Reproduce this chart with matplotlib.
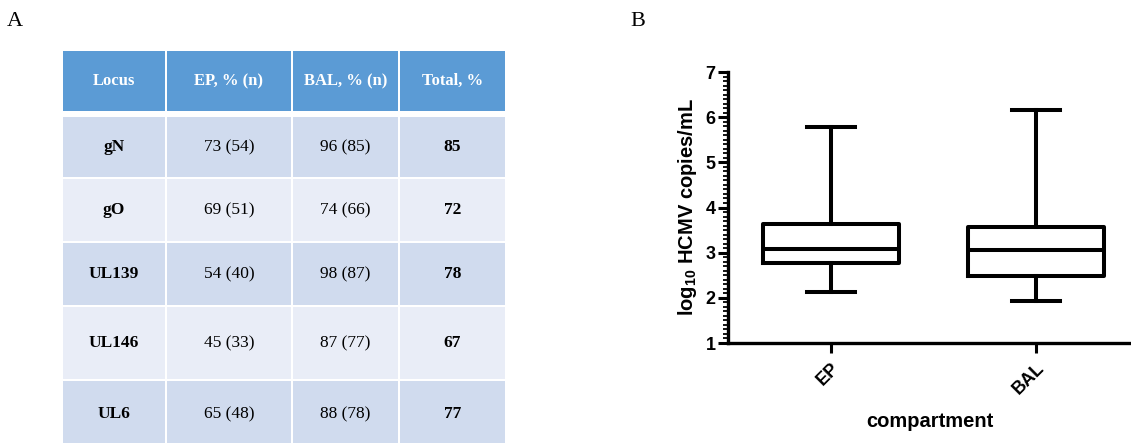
import matplotlib
matplotlib.use("Agg")
import matplotlib.pyplot as plt
from matplotlib.patches import Rectangle
from matplotlib.ticker import MultipleLocator

# ---------------- data ----------------
header = ['Locus', 'EP, % (n)', 'BAL, % (n)', 'Total, %']
loci = ['gN', 'gO', 'UL139', 'UL146', 'UL6']
ep_pct = [73, 69, 54, 45, 65]
ep_n = [54, 51, 40, 33, 48]
bal_pct = [96, 74, 98, 87, 88]
bal_n = [85, 66, 87, 77, 78]
total_pct = [85, 72, 78, 67, 77]

compartments = ['EP', 'BAL']
whis_lo = [2.13, 1.94]
q1 = [2.78, 2.49]
median = [3.09, 3.05]
q3 = [3.64, 3.57]
whis_hi = [5.78, 6.15]

# ---------------- figure ----------------
W, H = 1131, 443
fig = plt.figure(figsize=(W / 100, H / 100), dpi=100)
fig.patch.set_facecolor('white')

serif = 'Liberation Serif'
sans = 'Liberation Sans'
plt.rcParams['mathtext.fontset'] = 'custom'
plt.rcParams['mathtext.rm'] = 'Liberation Sans:bold'
plt.rcParams['mathtext.it'] = 'Liberation Sans:bold'
plt.rcParams['mathtext.bf'] = 'Liberation Sans:bold'

fig.text(15 / W, 1 - 21 / H, 'A', family=serif, fontsize=16, ha='center', va='center')
fig.text(638 / W, 1 - 21 / H, 'B', family=serif, fontsize=16, ha='center', va='center')

# ---------------- table (panel A) ----------------
col_widths = [104, 126, 107, 107]
row_heights = [62, 62, 64, 64, 74, 68]
header_gap = 4
tab_left, tab_top = 62, 50
tab_w = sum(col_widths)
tab_h = sum(row_heights) + header_gap
axt = fig.add_axes([tab_left / W, 1 - (tab_top + tab_h) / H, tab_w / W, tab_h / H])
axt.set_xlim(0, tab_w)
axt.set_ylim(tab_h, 0)
axt.axis('off')

header_color = '#5B9BD5'
row_colors = ['#D0DBEE', '#E9EDF7']

rows = [header] + [[loci[i], f'{ep_pct[i]} ({ep_n[i]})', f'{bal_pct[i]} ({bal_n[i]})',
                    f'{total_pct[i]}'] for i in range(len(loci))]
y = 0
for r, rh in enumerate(row_heights):
    if r == 1:
        y += header_gap
    x = 0
    for c, cw in enumerate(col_widths):
        fc = header_color if r == 0 else row_colors[(r - 1) % 2]
        axt.add_patch(Rectangle((x + 1, y + 1), cw - 2, rh - 2, facecolor=fc,
                                edgecolor='none'))
        txt = rows[r][c]
        if r == 0:
            axt.text(x + cw / 2, y + rh / 2, txt, family=serif, fontweight='bold',
                     color='white', fontsize=12, ha='center', va='center')
        else:
            bold = c in (0, 3)
            axt.text(x + cw / 2, y + rh / 2, txt, family=serif,
                     fontweight='bold' if bold else 'normal',
                     color='black', fontsize=12.5, ha='center', va='center')
        x += cw
    y += rh

# ---------------- box plot (panel B) ----------------
ax_left, ax_right, ax_top, ax_bot = 728, 1131, 72, 343
ax = fig.add_axes([ax_left / W, 1 - ax_bot / H, (ax_right - ax_left) / W, (ax_bot - ax_top) / H])

stats = []
for i, name in enumerate(compartments):
    stats.append(dict(label=name, whislo=whis_lo[i], q1=q1[i], med=median[i],
                      q3=q3[i], whishi=whis_hi[i], fliers=[]))
lw = 2.9
ax.bxp(stats, positions=[1, 2], widths=0.66, capwidths=0.23, showfliers=False,
       boxprops=dict(linewidth=lw, color='black'),
       medianprops=dict(linewidth=lw, color='black'),
       whiskerprops=dict(linewidth=lw, color='black'),
       capprops=dict(linewidth=lw, color='black'))

ax.set_xlim(0.498, 2.463)
ax.set_ylim(1, 7)
ax.yaxis.set_major_locator(MultipleLocator(1))
ax.yaxis.set_minor_locator(MultipleLocator(0.1))
for s in ('top', 'right'):
    ax.spines[s].set_visible(False)
for s in ('left', 'bottom'):
    ax.spines[s].set_linewidth(2.4)
ax.tick_params(axis='y', which='major', length=7, width=2.2, pad=2)
ax.tick_params(axis='y', which='minor', length=3.8, width=1.3)
ax.tick_params(axis='x', which='major', length=7, width=2.2, pad=5)

for lab in ax.get_yticklabels():
    lab.set_fontfamily(sans)
    lab.set_fontweight('bold')
    lab.set_fontsize(13)
ax.set_xticks([1, 2])
ax.set_xticklabels(compartments, rotation=45, ha='right', va='top',
                   rotation_mode='anchor', family=sans, fontweight='bold', fontsize=13)

ax.set_ylabel(r'log$_{10}$ HCMV copies/mL', family=sans, fontweight='bold', fontsize=14.5,
              labelpad=5)
ax.set_xlabel('compartment', family=sans, fontweight='bold', fontsize=14.5, labelpad=10)

fig.savefig('out.png', dpi=100, facecolor='white')
